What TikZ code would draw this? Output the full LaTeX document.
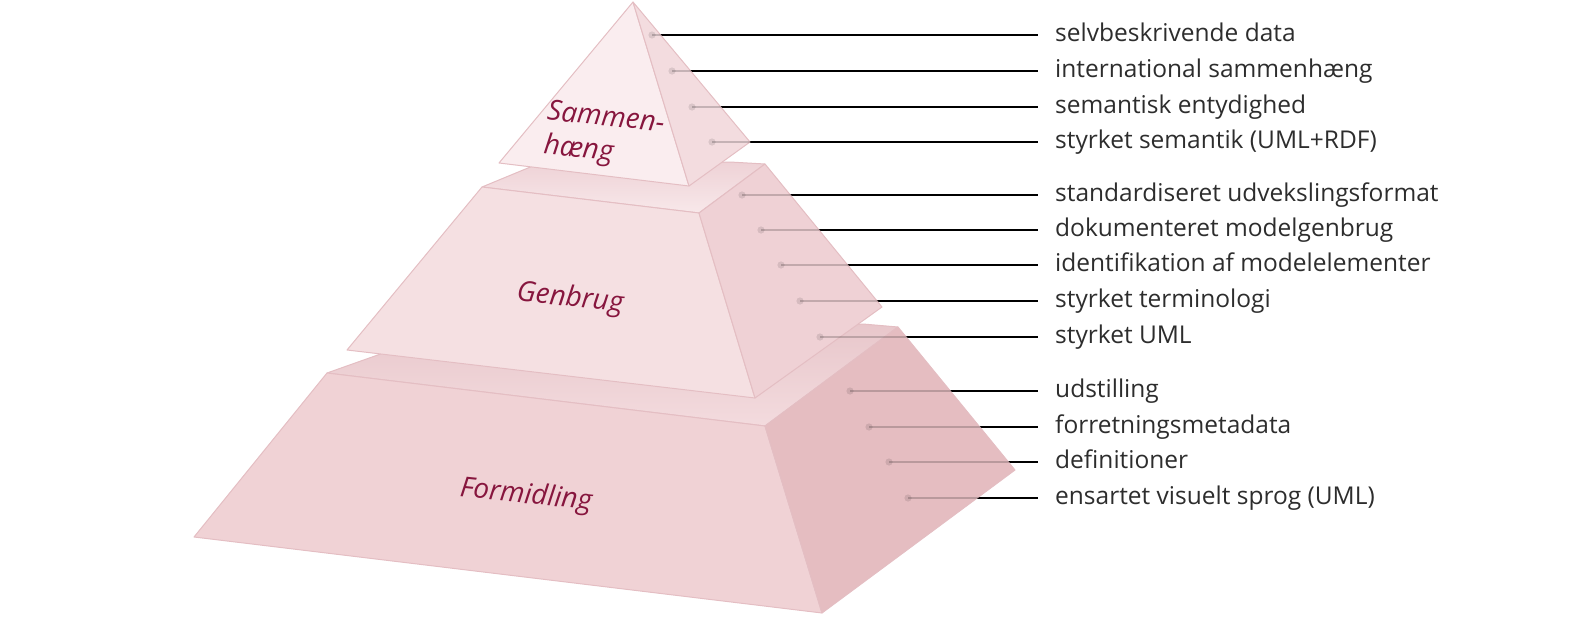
\documentclass[tikz,border=0pt]{standalone}
\usepackage{fontspec}
\setmainfont{Open Sans}
\definecolor{lbltext}{RGB}{45,45,45}
\definecolor{maroon}{RGB}{135,22,62}
\definecolor{edgec}{RGB}{228,190,195}
\definecolor{tLeft}{RGB}{250,237,239}
\definecolor{tRight}{RGB}{243,220,223}
\definecolor{mTopA}{RGB}{238,210,214}
\definecolor{mTopB}{RGB}{248,232,234}
\definecolor{mFront}{RGB}{245,224,226}
\definecolor{mRight}{RGB}{239,209,213}
\definecolor{bTopA}{RGB}{232,199,203}
\definecolor{bTopB}{RGB}{243,219,222}
\definecolor{bFront}{RGB}{240,210,213}
\definecolor{bRight}{RGB}{229,189,193}
\tikzset{
  lbl/.style={anchor=west, inner xsep=0pt, inner ysep=0pt, text height=13pt, text depth=0pt,
    font=\fontsize{24.5}{29}\selectfont, text=lbltext},
  lead/.style={line width=1.8pt, draw=black},
  leadshade/.style={line width=1.8pt, draw=black, draw opacity=0.19},
  pdot/.style={fill=black, fill opacity=0.1},
  face/.style={draw=edgec, line width=1pt, line join=round},
  level/.style={font=\itshape\fontsize{28}{34}\selectfont, text=maroon, rotate=-6, align=left, inner sep=0pt}
}
\begin{document}
\begin{tikzpicture}[x=1pt,y=-1pt]
\useasboundingbox (0,0) rectangle (1596,621);

% label texts
\node[lbl] (l1) at (1055,35) {selvbeskrivende data};
\node[lbl] (l2) at (1055,71) {international sammenhæng};
\node[lbl] (l3) at (1055,107) {semantisk entydighed};
\node[lbl] (l4) at (1055,142) {styrket semantik (UML+RDF)};
\node[lbl] (l5) at (1055,195) {standardiseret udvekslingsformat};
\node[lbl] (l6) at (1055,230) {dokumenteret modelgenbrug};
\node[lbl] (l7) at (1055,265) {identifikation af modelelementer};
\node[lbl] (l8) at (1055,301) {styrket terminologi};
\node[lbl] (l9) at (1055,337) {styrket UML};
\node[lbl] (l10) at (1055,391) {udstilling};
\node[lbl] (l11) at (1055,427) {forretningsmetadata};
\node[lbl] (l12) at (1055,462) {definitioner};
\node[lbl] (l13) at (1055,498) {ensartet visuelt sprog (UML)};

% dot positions
\coordinate (d1) at (652,35);
\coordinate (d2) at (672,71);
\coordinate (d3) at (692,107);
\coordinate (d4) at (712,142);
\coordinate (d5) at (742,195);
\coordinate (d6) at (761,230);
\coordinate (d7) at (781,265);
\coordinate (d8) at (800,301);
\coordinate (d9) at (820,337);
\coordinate (d10) at (850,391);
\coordinate (d11) at (869,427);
\coordinate (d12) at (889,462);
\coordinate (d13) at (908,498);

% leader lines (under the pyramid)
\foreach \i in {1,...,13}{
  \draw[lead] (d\i) -- ([xshift=-17pt]l\i.west);
}

% ---- bottom level
\coordinate (BFTL) at (327,373);
\coordinate (BBTL) at (420,340);
\coordinate (BBK) at (863,324);
\coordinate (BBTR) at (898,327);
\coordinate (BFTR) at (765,426);
\coordinate (BFBL) at (194,537);
\coordinate (BFBR) at (822,613);
\coordinate (BR) at (1015,470);
\path[face, top color=bTopA, bottom color=bTopB] (BFTL) -- (BBTL) -- (BBK) -- (BBTR) -- (BFTR) -- cycle;
\path[face, fill=bFront] (BFTL) -- (BFTR) -- (BFBR) -- (BFBL) -- cycle;
\path[face, fill=bRight] (BFTR) -- (BBTR) -- (BR) -- (BFBR) -- cycle;

% ---- middle level
\coordinate (MFTL) at (482,187);
\coordinate (MBTL) at (540,163);
\coordinate (MBK) at (730,162);
\coordinate (MBTR) at (765,164);
\coordinate (MFTR) at (699,213);
\coordinate (MFBL) at (347,350);
\coordinate (MFBR) at (755,398);
\coordinate (MR) at (882,307);
\path[face, top color=mTopA, bottom color=mTopB] (MFTL) -- (MBTL) -- (MBK) -- (MBTR) -- (MFTR) -- cycle;
\path[face, fill=mFront] (MFTL) -- (MFTR) -- (MFBR) -- (MFBL) -- cycle;
\path[face, fill=mRight] (MFTR) -- (MBTR) -- (MR) -- (MFBR) -- cycle;

% ---- top pyramid
\coordinate (TA) at (633,2);
\coordinate (TL) at (499,163);
\coordinate (TF) at (689,186);
\coordinate (TR) at (750,142);
\path[face, fill=tLeft] (TA) -- (TL) -- (TF) -- cycle;
\path[face, fill=tRight] (TA) -- (TF) -- (TR) -- cycle;

% leader lines seen through the pyramid
\foreach \i in {1,...,13}{
  \draw[leadshade] (d\i) -- ([xshift=-17pt]l\i.west);
  \fill[pdot] (d\i) circle (3.6pt);
}

% level names
\node[level] (s) at (604,136) {Sammen-\\hæng};
\node[level] (g) at (570,299) {Genbrug};
\node[level] (f) at (526,496) {Formidling};
\end{tikzpicture}
\end{document}
